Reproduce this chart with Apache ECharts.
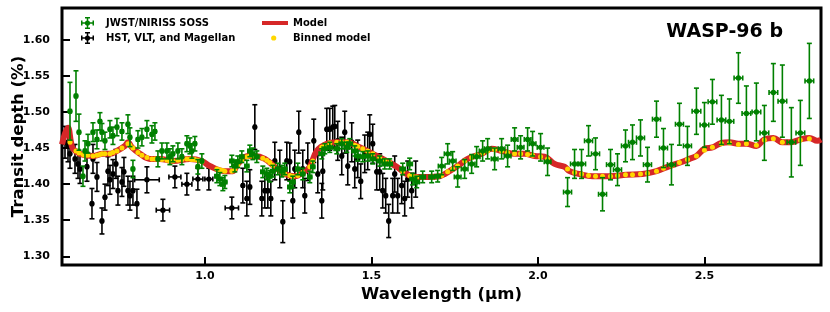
<!DOCTYPE html>
<html><head><meta charset="utf-8">
<script src="https://cdn.jsdelivr.net/npm/echarts@6/dist/echarts.min.js"></script>
<style>html,body{margin:0;padding:0;background:#fff}#c{width:830px;height:312px}</style>
</head><body><div id="c"></div>
<script>
// ---- tick labels ----
const xTicks = [1.0, 1.5, 2.0, 2.5];
const yTicks = [1.30, 1.35, 1.40, 1.45, 1.50, 1.55, 1.60];

// ---- JWST/NIRISS SOSS ----
const jwstWave = [0.595,0.613,0.622,0.634,0.640,0.649,0.664,0.676,0.685,0.691,
0.700,0.715,0.724,0.736,0.751,0.769,0.775,0.784,0.799,0.811,
0.826,0.841,0.850,0.859,0.871,0.886,0.895,0.904,0.919,0.931,
0.946,0.955,0.961,0.970,0.979,0.991,1.036,1.045,1.054,1.060,
1.081,1.090,1.099,1.111,1.126,1.135,1.144,1.156,1.174,1.186,
1.195,1.204,1.219,1.231,1.240,1.255,1.264,1.279,1.294,1.315,
1.324,1.351,1.360,1.375,1.396,1.411,1.426,1.435,1.450,1.459,
1.474,1.489,1.504,1.525,1.540,1.555,1.594,1.615,1.624,1.636,
1.654,1.681,1.699,1.711,1.729,1.744,1.759,1.780,1.801,1.816,
1.834,1.849,1.870,1.891,1.909,1.930,1.948,1.969,1.984,2.008,
2.029,2.089,2.110,2.131,2.152,2.173,2.194,2.218,2.239,2.263,
2.284,2.308,2.329,2.356,2.377,2.401,2.425,2.449,2.476,2.500,
2.524,2.551,2.575,2.602,2.626,2.656,2.680,2.707,2.734,2.761,
2.788,2.815];
const jwstDepth = [1.501,1.522,1.472,1.411,1.446,1.456,1.472,1.462,1.487,1.472,
1.460,1.476,1.467,1.479,1.473,1.483,1.465,1.421,1.462,1.465,
1.476,1.469,1.473,1.435,1.446,1.446,1.438,1.442,1.446,1.438,
1.456,1.453,1.446,1.456,1.424,1.432,1.411,1.407,1.400,1.403,
1.432,1.425,1.431,1.438,1.425,1.446,1.442,1.438,1.417,1.414,
1.411,1.418,1.421,1.418,1.421,1.396,1.403,1.421,1.414,1.410,
1.424,1.442,1.449,1.451,1.449,1.456,1.451,1.456,1.446,1.439,
1.438,1.439,1.435,1.432,1.428,1.428,1.421,1.428,1.407,1.403,
1.410,1.410,1.411,1.425,1.442,1.432,1.410,1.421,1.428,1.438,
1.446,1.449,1.435,1.449,1.439,1.462,1.451,1.462,1.456,1.451,
1.431,1.389,1.428,1.428,1.460,1.442,1.386,1.427,1.420,1.453,
1.458,1.464,1.427,1.490,1.450,1.427,1.483,1.453,1.501,1.482,
1.514,1.489,1.487,1.547,1.498,1.500,1.471,1.527,1.515,1.458,
1.471,1.543];
const jwstErr = [0.040,0.035,0.025,0.014,0.014,0.013,0.013,0.013,0.012,0.012,
0.012,0.012,0.012,0.012,0.012,0.013,0.013,0.012,0.012,0.012,
0.012,0.012,0.012,0.011,0.011,0.011,0.011,0.011,0.011,0.011,
0.011,0.011,0.010,0.010,0.010,0.010,0.009,0.009,0.009,0.009,
0.008,0.008,0.008,0.008,0.008,0.008,0.008,0.008,0.008,0.008,
0.008,0.008,0.008,0.008,0.008,0.008,0.008,0.008,0.008,0.008,
0.008,0.007,0.007,0.007,0.007,0.007,0.007,0.007,0.007,0.007,
0.007,0.007,0.007,0.007,0.007,0.007,0.008,0.008,0.008,0.008,
0.008,0.008,0.008,0.012,0.014,0.013,0.014,0.013,0.013,0.014,
0.014,0.014,0.015,0.014,0.015,0.016,0.016,0.016,0.017,0.019,
0.019,0.020,0.020,0.020,0.021,0.022,0.023,0.021,0.022,0.022,
0.024,0.025,0.024,0.025,0.027,0.028,0.029,0.027,0.032,0.031,
0.031,0.034,0.031,0.035,0.038,0.040,0.038,0.040,0.050,0.048,
0.045,0.052];
const jwstWErr = [0.004,0.004,0.004,0.004,0.004,0.004,0.004,0.004,0.004,0.004,
0.004,0.004,0.004,0.004,0.004,0.004,0.004,0.004,0.004,0.004,
0.004,0.004,0.004,0.004,0.004,0.004,0.004,0.004,0.004,0.004,
0.004,0.004,0.004,0.004,0.004,0.004,0.006,0.006,0.006,0.006,
0.006,0.006,0.006,0.006,0.006,0.006,0.006,0.006,0.006,0.006,
0.006,0.006,0.006,0.006,0.006,0.006,0.006,0.006,0.006,0.006,
0.006,0.008,0.008,0.008,0.008,0.008,0.008,0.008,0.008,0.008,
0.008,0.008,0.008,0.008,0.008,0.008,0.008,0.008,0.008,0.008,
0.008,0.008,0.008,0.010,0.010,0.010,0.010,0.010,0.010,0.010,
0.010,0.010,0.010,0.010,0.010,0.010,0.010,0.010,0.010,0.010,
0.010,0.012,0.012,0.012,0.012,0.012,0.012,0.012,0.012,0.012,
0.012,0.012,0.012,0.012,0.012,0.012,0.012,0.012,0.013,0.013,
0.013,0.013,0.013,0.013,0.013,0.013,0.013,0.013,0.013,0.013,
0.013,0.013];

// ---- HST, VLT, and Magellan ----
const hstWave = [0.580,0.589,0.595,0.610,0.619,0.625,0.646,0.661,0.664,0.676,
0.691,0.700,0.709,0.715,0.724,0.733,0.739,0.751,0.757,0.769,
0.775,0.784,0.796,0.826,0.874,0.910,0.946,0.979,1.012,1.081,
1.114,1.126,1.135,1.150,1.171,1.180,1.189,1.198,1.210,1.225,
1.234,1.246,1.255,1.264,1.270,1.282,1.294,1.300,1.309,1.327,
1.339,1.351,1.354,1.366,1.375,1.384,1.390,1.399,1.411,1.420,
1.429,1.441,1.450,1.459,1.468,1.480,1.489,1.495,1.504,1.516,
1.525,1.534,1.543,1.552,1.564,1.570,1.579,1.591,1.600,1.609,
1.621,1.633];
const hstDepth = [1.458,1.453,1.442,1.435,1.428,1.421,1.424,1.373,1.435,1.410,
1.349,1.382,1.418,1.406,1.414,1.428,1.391,1.403,1.417,1.391,
1.384,1.391,1.373,1.406,1.364,1.410,1.400,1.407,1.407,1.367,
1.398,1.380,1.396,1.479,1.380,1.391,1.391,1.380,1.432,1.421,
1.348,1.432,1.431,1.377,1.421,1.472,1.421,1.384,1.431,1.460,
1.414,1.377,1.418,1.476,1.476,1.479,1.480,1.460,1.439,1.472,
1.425,1.458,1.421,1.435,1.404,1.442,1.446,1.469,1.456,1.417,
1.417,1.391,1.384,1.349,1.384,1.414,1.384,1.398,1.380,1.407,
1.391,1.407];
const hstErr = [0.022,0.022,0.020,0.020,0.020,0.020,0.020,0.021,0.020,0.020,
0.018,0.018,0.020,0.020,0.020,0.020,0.020,0.020,0.020,0.020,
0.020,0.020,0.020,0.018,0.015,0.015,0.015,0.015,0.015,0.015,
0.024,0.024,0.024,0.031,0.024,0.024,0.024,0.024,0.026,0.026,
0.029,0.026,0.026,0.024,0.026,0.029,0.026,0.024,0.026,0.030,
0.026,0.024,0.026,0.029,0.029,0.029,0.029,0.027,0.026,0.029,
0.026,0.027,0.026,0.026,0.024,0.026,0.026,0.027,0.027,0.025,
0.025,0.024,0.024,0.023,0.024,0.025,0.024,0.025,0.024,0.025,
0.024,0.025];
const hstWErr = [0.003,0.003,0.003,0.003,0.003,0.003,0.003,0.003,0.003,0.003,
0.003,0.003,0.003,0.003,0.003,0.003,0.003,0.003,0.003,0.003,
0.003,0.003,0.003,0.037,0.020,0.018,0.015,0.015,0.012,0.020,
0.003,0.003,0.003,0.003,0.003,0.003,0.003,0.003,0.003,0.003,
0.003,0.003,0.003,0.003,0.003,0.003,0.003,0.003,0.003,0.003,
0.003,0.003,0.003,0.003,0.003,0.003,0.003,0.003,0.003,0.003,
0.003,0.003,0.003,0.003,0.003,0.003,0.003,0.003,0.003,0.003,
0.003,0.003,0.003,0.003,0.003,0.003,0.003,0.003,0.003,0.003,
0.003,0.003];

// ---- Model ----
const modelWave = [0.571,0.580,0.589,0.598,0.604,0.625,0.664,0.694,0.715,0.736,
0.760,0.769,0.781,0.805,0.835,0.865,0.904,0.955,0.991,1.015,
1.060,1.084,1.099,1.129,1.150,1.180,1.210,1.240,1.270,1.300,
1.315,1.336,1.366,1.396,1.426,1.465,1.504,1.546,1.576,1.606,
1.636,1.675,1.705,1.720,1.759,1.789,1.831,1.861,1.891,1.930,
1.960,1.990,2.020,2.050,2.080,2.095,2.125,2.164,2.215,2.266,
2.314,2.356,2.395,2.434,2.455,2.476,2.500,2.524,2.551,2.575,
2.602,2.626,2.656,2.680,2.707,2.734,2.761,2.788,2.815,2.839,2.850];
const modelDepth = [1.455,1.470,1.478,1.458,1.449,1.442,1.439,1.442,1.442,1.446,
1.453,1.458,1.451,1.442,1.435,1.435,1.432,1.435,1.432,1.425,
1.418,1.418,1.428,1.439,1.439,1.435,1.424,1.414,1.411,1.418,
1.424,1.446,1.456,1.458,1.458,1.451,1.442,1.432,1.424,1.414,
1.410,1.410,1.411,1.414,1.425,1.435,1.442,1.449,1.446,1.442,
1.442,1.439,1.438,1.428,1.424,1.418,1.414,1.411,1.411,1.413,
1.414,1.418,1.425,1.431,1.435,1.439,1.449,1.451,1.457,1.458,
1.456,1.456,1.453,1.462,1.464,1.458,1.458,1.462,1.464,1.460,1.462];

// ---- Binned model (at the SOSS wavelengths) ----
const binnedDepth = [1.458,1.446,1.443,1.441,1.440,1.440,1.439,1.440,1.441,1.442,
1.442,1.442,1.444,1.446,1.450,1.456,1.454,1.450,1.444,1.440,
1.437,1.435,1.435,1.435,1.434,1.433,1.432,1.432,1.433,1.434,
1.435,1.435,1.434,1.434,1.433,1.431,1.421,1.420,1.419,1.418,
1.418,1.421,1.427,1.433,1.438,1.439,1.439,1.438,1.436,1.433,
1.430,1.426,1.421,1.417,1.414,1.412,1.411,1.412,1.416,1.424,
1.432,1.451,1.454,1.457,1.458,1.458,1.458,1.457,1.454,1.452,
1.449,1.446,1.442,1.437,1.433,1.430,1.418,1.412,1.411,1.410,
1.410,1.410,1.411,1.412,1.417,1.421,1.425,1.432,1.437,1.440,
1.443,1.446,1.448,1.446,1.444,1.442,1.442,1.441,1.440,1.438,
1.435,1.421,1.416,1.414,1.412,1.411,1.411,1.411,1.412,1.413,
1.413,1.414,1.415,1.418,1.422,1.426,1.430,1.434,1.439,1.447,
1.451,1.456,1.457,1.455,1.456,1.454,1.461,1.463,1.458,1.458,
1.461,1.463];

const FONT = 'DejaVu Sans';
const GREEN = '#008000', BLACK = '#000000', RED = '#d62728', GOLD = '#ffd700';

function errSeries(name, wave, depth, werr, err, color, z) {
  const data = wave.map((w, i) => [w, depth[i], werr[i], err[i]]);
  return {
    name, type: 'custom', z, data, clip: true,
    itemStyle: { color },
    encode: { x: 0, y: 1 },
    renderItem: function (params, api) {
      const x = api.value(0), y = api.value(1), xe = api.value(2), ye = api.value(3);
      const c = api.coord([x, y]);
      const t = api.coord([x, y + ye]), b = api.coord([x, y - ye]);
      const l = api.coord([x - xe, y]), r = api.coord([x + xe, y]);
      const st = { stroke: color, lineWidth: 1.6 };
      const cap = 2.5;
      return {
        type: 'group',
        children: [
          { type: 'line', shape: { x1: c[0], y1: t[1], x2: c[0], y2: b[1] }, style: st },
          { type: 'line', shape: { x1: c[0] - cap, y1: t[1], x2: c[0] + cap, y2: t[1] }, style: st },
          { type: 'line', shape: { x1: c[0] - cap, y1: b[1], x2: c[0] + cap, y2: b[1] }, style: st },
          { type: 'line', shape: { x1: l[0], y1: c[1], x2: r[0], y2: c[1] }, style: st },
          { type: 'line', shape: { x1: l[0], y1: c[1] - cap, x2: l[0], y2: c[1] + cap }, style: st },
          { type: 'line', shape: { x1: r[0], y1: c[1] - cap, x2: r[0], y2: c[1] + cap }, style: st },
          { type: 'circle', shape: { cx: c[0], cy: c[1], r: 2.7 }, style: { fill: color } }
        ]
      };
    }
  };
}

const ebIcon = 'path://M5.75 0 L7.25 0 L7.25 12 L5.75 12 Z M4 0 L9 0 L9 1.5 L4 1.5 Z M4 10.5 L9 10.5 L9 12 L4 12 Z M0 5.25 L13 5.25 L13 6.75 L0 6.75 Z M0 3.5 L1.5 3.5 L1.5 8.5 L0 8.5 Z M11.5 3.5 L13 3.5 L13 8.5 L11.5 8.5 Z M9.1 6 A2.6 2.6 0 1 1 3.9 6 A2.6 2.6 0 1 1 9.1 6 Z M19.99 11.99 L20 12 L19.99 12 Z';
const lineIcon = 'path://M0 4 L26 4 L26 8 L0 8 Z M0 0 L0.01 0 L0 0.01 Z M26 12 L25.99 12 L26 11.99 Z';
const dotIcon = 'path://M14.3 6 A2.6 2.6 0 1 1 9.1 6 A2.6 2.6 0 1 1 14.3 6 Z M0 0 L0.01 0 L0 0.01 Z M26 12 L25.99 12 L26 11.99 Z';

const legendText = { fontFamily: FONT, fontWeight: 'bold', fontSize: 10, color: '#000' };

const chart = echarts.init(document.getElementById('c'), null, { renderer: 'canvas' });
chart.setOption({
  animation: false,
  backgroundColor: '#fff',
  title: {
    text: 'WASP-96 b', right: 47, top: 23, padding: 0,
    textStyle: { fontFamily: FONT, fontWeight: 'bold', fontSize: 19, color: '#000' }
  },
  legend: [
    {
      orient: 'vertical', left: 76, top: 12, itemWidth: 20, itemHeight: 12, itemGap: 3,
      selectedMode: false, textStyle: legendText,
      data: [
        { name: 'JWST/NIRISS SOSS', icon: ebIcon, itemStyle: { color: GREEN, borderWidth: 0 } },
        { name: 'HST, VLT, and Magellan', icon: ebIcon, itemStyle: { color: BLACK, borderWidth: 0 } }
      ]
    },
    {
      orient: 'vertical', left: 257, top: 12, itemWidth: 26, itemHeight: 12, itemGap: 3,
      selectedMode: false, textStyle: legendText,
      data: [
        { name: 'Model', icon: lineIcon, itemStyle: { color: RED, borderWidth: 0 } },
        { name: 'Binned model', icon: dotIcon, itemStyle: { color: GOLD, borderWidth: 0 } }
      ]
    }
  ],
  grid: { left: 62, right: 9, top: 8, bottom: 47, outerBoundsMode: 'none', containLabel: false,
          show: true, borderColor: '#000', borderWidth: 3, backgroundColor: 'transparent' },
  xAxis: {
    type: 'value', min: 0.571, max: 2.85,
    name: 'Wavelength (μm)', nameLocation: 'middle', nameGap: 21, nameMoveOverlap: false,
    nameTextStyle: { fontFamily: FONT, fontWeight: 'bold', fontSize: 16.5, color: '#000' },
    axisLine: { show: false },
    splitLine: { show: false },
    axisTick: { show: true, inside: true, length: 8, lineStyle: { color: '#000', width: 2 }, customValues: xTicks },
    axisLabel: { customValues: xTicks, formatter: v => v.toFixed(1), margin: 6, fontFamily: FONT, fontWeight: 'bold', fontSize: 11, color: '#000' }
  },
  yAxis: {
    type: 'value', min: 1.288, max: 1.644,
    name: 'Transit depth (%)', nameLocation: 'middle', nameGap: 35, nameMoveOverlap: false,
    nameTextStyle: { fontFamily: FONT, fontWeight: 'bold', fontSize: 16.5, color: '#000' },
    axisLine: { show: false },
    splitLine: { show: false },
    axisTick: { show: true, inside: true, length: 8, lineStyle: { color: '#000', width: 2 }, customValues: yTicks },
    axisLabel: { customValues: yTicks, formatter: v => v.toFixed(2), margin: 12, fontFamily: FONT, fontWeight: 'bold', fontSize: 11, color: '#000' }
  },
  series: [
    errSeries('HST, VLT, and Magellan', hstWave, hstDepth, hstWErr, hstErr, BLACK, 2),
    {
      name: 'Model', type: 'line', z: 3, showSymbol: false, symbol: 'none', smooth: 0.4,
      data: modelWave.map((w, i) => [w, modelDepth[i]]),
      lineStyle: { color: RED, width: 6 }, itemStyle: { color: RED }
    },
    {
      name: 'Binned model', type: 'scatter', z: 4, symbol: 'circle', symbolSize: 5,
      data: jwstWave.map((w, i) => [w, binnedDepth[i]]),
      itemStyle: { color: GOLD, opacity: 1 }
    },
    errSeries('JWST/NIRISS SOSS', jwstWave, jwstDepth, jwstWErr, jwstErr, GREEN, 5)
  ]
});
</script>
</body></html>
